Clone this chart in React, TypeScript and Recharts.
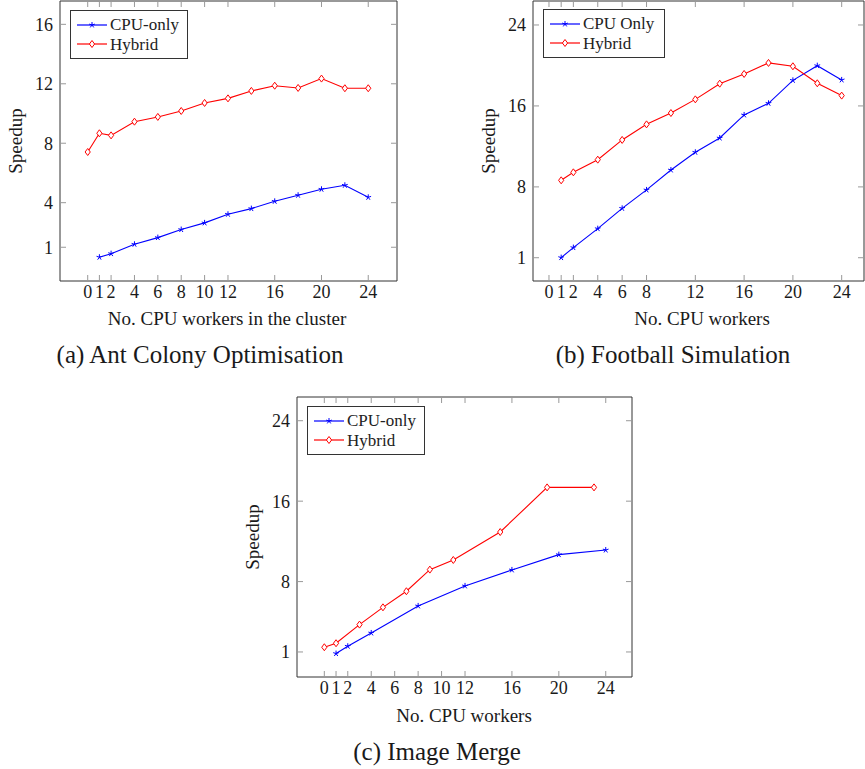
import React from 'react';
import { LineChart, Line, XAxis, YAxis, Legend } from 'recharts';

// (a) Ant Colony Optimisation
const antCpuX = [1, 2, 4, 6, 8, 10, 12, 14, 16, 18, 20, 22, 24];
const antCpu = [0.33, 0.57, 1.2, 1.65, 2.19, 2.64, 3.22, 3.6, 4.09, 4.5, 4.9, 5.17, 4.36];
const antHybX = [0, 1, 2, 4, 6, 8, 10, 12, 14, 16, 18, 20, 22, 24];
const antHyb = [7.41, 8.67, 8.53, 9.45, 9.77, 10.17, 10.71, 11.02, 11.52, 11.87, 11.72, 12.35, 11.7, 11.7];
const antXTicks = [0, 1, 2, 4, 6, 8, 10, 12, 16, 20, 24];
const antYTicks = [1, 4, 8, 12, 16];

// (b) Football Simulation
const fbX = [1, 2, 4, 6, 8, 10, 12, 14, 16, 18, 20, 22, 24];
const fbCpu = [1.01, 2.0, 3.87, 5.88, 7.7, 9.67, 11.42, 12.83, 15.11, 16.26, 18.53, 19.98, 18.57];
const fbHyb = [8.65, 9.44, 10.69, 12.64, 14.18, 15.3, 16.65, 18.2, 19.16, 20.25, 19.92, 18.24, 17.02];
const fbXTicks = [0, 1, 2, 4, 6, 8, 12, 16, 20, 24];
const fbYTicks = [1, 8, 16, 24];

// (c) Image Merge
const imgCpuX = [1, 2, 4, 8, 12, 16, 20, 24];
const imgCpu = [0.84, 1.57, 2.89, 5.58, 7.57, 9.16, 10.68, 11.14];
const imgHybX = [0, 1, 3, 5, 7, 9, 11, 15, 19, 23];
const imgHyb = [1.47, 1.87, 3.72, 5.44, 7.04, 9.19, 10.15, 12.93, 17.37, 17.37];
const imgXTicks = [0, 1, 2, 4, 6, 8, 10, 12, 16, 20, 24];
const imgYTicks = [1, 8, 16, 24];

const FONT = 'Liberation Serif, DejaVu Serif, Times New Roman, serif';
const BLUE = '#0000ff';
const RED = '#ff0000';

const starPath = (cx: number, cy: number, r: number) => {
  let d = '';
  for (let k = 0; k < 5; k++) {
    const a = ((-90 + k * 72) * Math.PI) / 180;
    d += `M${cx},${cy}L${cx + r * Math.cos(a)},${cy + r * Math.sin(a)}`;
  }
  return d;
};

const diamondPath = (cx: number, cy: number) =>
  `M${cx},${cy - 3.5}L${cx + 2.6},${cy}L${cx},${cy + 3.5}L${cx - 2.6},${cy}Z`;

const Mark = ({ kind, cx, cy, color }: any) =>
  kind === 'star' ? (
    <path d={starPath(cx, cy, 3)} stroke={color} strokeWidth={1} fill="none" />
  ) : (
    <path d={diamondPath(cx, cy)} stroke={color} strokeWidth={1} fill="#fff" />
  );

const dotFor = (kind: string, color: string) => (pr: any) => {
  if (pr.cx == null || pr.cy == null) return <g key={`n${pr.index}`} />;
  return (
    <g key={`${kind}${pr.index}`}>
      <Mark kind={kind} cx={pr.cx} cy={pr.cy} color={color} />
    </g>
  );
};

const LegendBox = ({ items, width }: any) => (
  <div
    style={{
      border: '1px solid #333',
      background: '#fff',
      width,
      boxSizing: 'border-box',
      padding: '4px 0 4px 6px',
      fontFamily: FONT,
      fontSize: 17,
      color: '#222',
    }}
  >
    {items.map((it: any) => (
      <div key={it.name} style={{ display: 'flex', alignItems: 'center', height: 19.5 }}>
        <svg width={30} height={12} style={{ flex: 'none' }}>
          <line x1={0} y1={6} x2={30} y2={6} stroke={it.color} strokeWidth={1.2} />
          <Mark kind={it.kind} cx={15} cy={6} color={it.color} />
        </svg>
        <span style={{ marginLeft: 3, lineHeight: '19px' }}>{it.name}</span>
      </div>
    ))}
  </div>
);

const tickStyle = { fontSize: 18, fill: '#1a1a1a', fontFamily: FONT };
const axisLine = { stroke: '#333', strokeWidth: 1 };
const tickLine = { stroke: '#999', strokeWidth: 1 };
const blank = () => '';

const Panel = (p: any) => {
  const series = p.series.map((s: any) => ({
    ...s,
    rows: s.xs.map((x: number, i: number) => ({ x, y: s.ys[i] })),
  }));
  return (
    <div style={{ position: 'absolute', left: p.left, top: p.top }}>
      <LineChart
        width={p.width}
        height={p.height + 20}
        margin={{ top: p.mt, right: 0, bottom: 20, left: 0 }}
        style={{ fontFamily: FONT }}
      >
        <XAxis
          xAxisId="b"
          type="number"
          dataKey="x"
          domain={p.xDomain}
          allowDataOverflow
          ticks={p.xTicks}
          interval={0}
          height={p.bottomH}
          tickSize={-6}
          tickMargin={10}
          tick={tickStyle}
          axisLine={axisLine}
          tickLine={tickLine}
        />
        <XAxis
          xAxisId="t"
          orientation="top"
          type="number"
          dataKey="x"
          domain={p.xDomain}
          allowDataOverflow
          ticks={p.xTicks}
          interval={0}
          height={1}
          tickSize={-6}
          tickFormatter={blank}
          axisLine={axisLine}
          tickLine={tickLine}
        />
        <YAxis
          yAxisId="l"
          type="number"
          domain={p.yDomain}
          allowDataOverflow
          ticks={p.yTicks}
          interval={0}
          width={p.leftW}
          tickSize={-6}
          tickMargin={13}
          tick={tickStyle}
          axisLine={axisLine}
          tickLine={tickLine}
        />
        <YAxis
          yAxisId="r"
          orientation="right"
          type="number"
          domain={p.yDomain}
          allowDataOverflow
          ticks={p.yTicks}
          interval={0}
          width={p.rightW}
          tickSize={-6}
          tickFormatter={blank}
          axisLine={axisLine}
          tickLine={tickLine}
        />
        {series.map((s: any) => (
          <Line
            key={s.name}
            xAxisId="b"
            yAxisId="l"
            data={s.rows}
            dataKey="y"
            name={s.name}
            stroke={s.color}
            strokeWidth={1.1}
            dot={dotFor(s.kind, s.color)}
            activeDot={false}
            isAnimationActive={false}
          />
        ))}
        <Legend
          layout="vertical"
          align="center"
          verticalAlign="middle"
          wrapperStyle={{ left: p.legend.left, top: p.legend.top, width: 'auto' }}
          content={() => <LegendBox items={p.series} width={p.legend.width} />}
        />
      </LineChart>
    </div>
  );
};

const App = () => (
  <div
    style={{
      position: 'absolute',
      left: 0,
      top: 0,
      width: 865,
      height: 769,
      background: '#fff',
      fontFamily: FONT,
      overflow: 'hidden',
    }}
  >
    <Panel
      left={0}
      top={0}
      width={410}
      height={300}
      mt={0}
      leftW={60}
      rightW={13}
      bottomH={19}
      xDomain={[-2.37, 26.46]}
      yDomain={[-1.27, 17.57]}
      xTicks={antXTicks}
      yTicks={antYTicks}
      legend={{ left: 70, top: 10, width: 118 }}
      series={[
        { name: 'CPU-only', xs: antCpuX, ys: antCpu, color: BLUE, kind: 'star' },
        { name: 'Hybrid', xs: antHybX, ys: antHyb, color: RED, kind: 'diamond' },
      ]}
    />
    <Panel
      left={470}
      top={0}
      width={395}
      height={300}
      mt={0}
      leftW={63}
      rightW={1}
      bottomH={19}
      xDomain={[-1.31, 25.83]}
      yDomain={[-1.3, 26.37]}
      xTicks={fbXTicks}
      yTicks={fbYTicks}
      legend={{ left: 73, top: 9, width: 122 }}
      series={[
        { name: 'CPU Only', xs: fbX, ys: fbCpu, color: BLUE, kind: 'star' },
        { name: 'Hybrid', xs: fbX, ys: fbHyb, color: RED, kind: 'diamond' },
      ]}
    />
    <Panel
      left={240}
      top={390}
      width={410}
      height={310}
      mt={6}
      leftW={57}
      rightW={18}
      bottomH={23}
      xDomain={[-2.33, 26.24]}
      yDomain={[-1.49, 26.36]}
      xTicks={imgXTicks}
      yTicks={imgYTicks}
      legend={{ left: 67, top: 16, width: 118 }}
      series={[
        { name: 'CPU-only', xs: imgCpuX, ys: imgCpu, color: BLUE, kind: 'star' },
        { name: 'Hybrid', xs: imgHybX, ys: imgHyb, color: RED, kind: 'diamond' },
      ]}
    />
    <svg
      width={865}
      height={769}
      style={{ position: 'absolute', left: 0, top: 0, pointerEvents: 'none', fontFamily: FONT }}
      fill="#1a1a1a"
    >
      <text x={227} y={325} fontSize={19} textAnchor="middle">No. CPU workers in the cluster</text>
      <text x={200} y={363} fontSize={25} textAnchor="middle">(a) Ant Colony Optimisation</text>
      <text transform="translate(22,141) rotate(-90)" fontSize={19} textAnchor="middle">Speedup</text>

      <text x={702} y={325} fontSize={19} textAnchor="middle">No. CPU workers</text>
      <text x={673} y={363} fontSize={25} textAnchor="middle">(b) Football Simulation</text>
      <text transform="translate(495,141) rotate(-90)" fontSize={19} textAnchor="middle">Speedup</text>

      <text x={464} y={722} fontSize={19} textAnchor="middle">No. CPU workers</text>
      <text x={437} y={760} fontSize={25} textAnchor="middle">(c) Image Merge</text>
      <text transform="translate(259,537) rotate(-90)" fontSize={19} textAnchor="middle">Speedup</text>
    </svg>
  </div>
);

export default App;
